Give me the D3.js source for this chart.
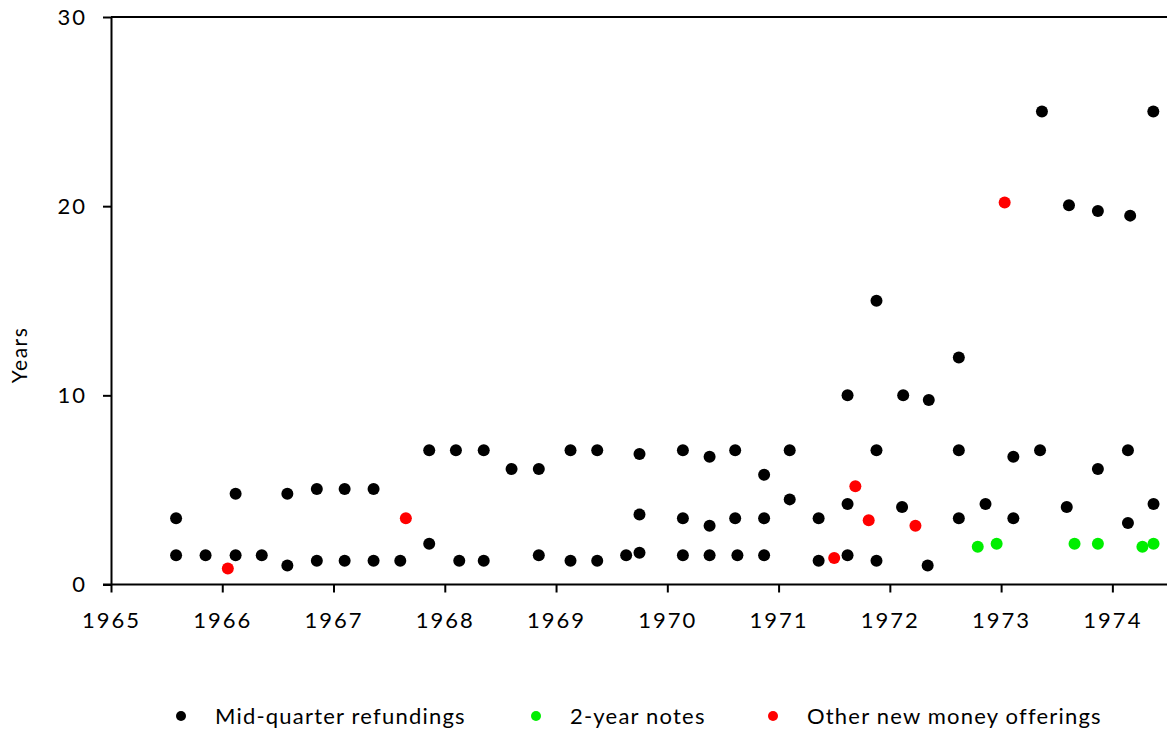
<!DOCTYPE html>
<html>
<head>
<meta charset="utf-8">
<script src="https://cdn.jsdelivr.net/npm/d3@7"></script>
<style>
  body { margin: 0; background: #fff; }
  text { font-family: Lato, "Open Sans", sans-serif; fill: #000; }
</style>
</head>
<body>
<div id="chart"></div>
<script>
var w = 1167;
var h = 734;

// mid-quarter refundings: issue date (decimal year) and maturity (years)
var refundDates = [1965.585, 1965.585, 1965.85, 1966.12, 1966.12, 1966.355, 1966.585, 1966.585,
  1966.85, 1966.85, 1967.1, 1967.1, 1967.36, 1967.36, 1967.6, 1967.86, 1967.86, 1968.1, 1968.13,
  1968.35, 1968.35, 1968.6, 1968.845, 1968.845, 1969.13, 1969.13, 1969.37, 1969.37, 1969.63,
  1969.75, 1969.75, 1969.75, 1970.14, 1970.14, 1970.14, 1970.38, 1970.38, 1970.38, 1970.61,
  1970.61, 1970.63, 1970.87, 1970.87, 1970.87, 1971.1, 1971.1, 1971.36, 1971.36, 1971.62,
  1971.62, 1971.62, 1971.88, 1971.88, 1971.88, 1972.11, 1972.12, 1972.34, 1972.35, 1972.62,
  1972.62, 1972.62, 1972.86, 1973.11, 1973.11, 1973.35, 1973.367, 1973.59, 1973.61, 1973.87,
  1973.87, 1974.14, 1974.14, 1974.16, 1974.37, 1974.368];
var refundYears = [3.5, 1.55, 1.55, 4.8, 1.55, 1.55, 4.8, 1.0,
  5.05, 1.25, 5.05, 1.25, 5.05, 1.25, 1.25, 7.1, 2.15, 7.1, 1.25,
  7.1, 1.25, 6.1, 6.1, 1.55, 7.1, 1.25, 7.1, 1.25, 1.55,
  6.9, 3.7, 1.68, 7.1, 3.5, 1.55, 6.75, 3.1, 1.55, 7.1,
  3.5, 1.55, 5.8, 3.5, 1.55, 7.1, 4.5, 3.5, 1.25, 10,
  4.25, 1.55, 15, 7.1, 1.25, 4.1, 10, 1.0, 9.75, 12,
  7.1, 3.5, 4.25, 6.75, 3.5, 7.1, 25, 4.1, 20.05, 19.75,
  6.1, 7.1, 3.25, 19.5, 4.25, 25];

// 2-year notes
var notesDates = [1972.79, 1972.96, 1973.66, 1973.87, 1974.27, 1974.37];
var notesYears = [2.0, 2.15, 2.15, 2.15, 2.0, 2.15];

// other new money offerings
var otherDates = [1966.05, 1967.65, 1971.5, 1971.69, 1971.81, 1972.23, 1973.032];
var otherYears = [0.85, 3.5, 1.4, 5.2, 3.4, 3.1, 20.2];

var xTicks = [1965, 1966, 1967, 1968, 1969, 1970, 1971, 1972, 1973, 1974];
var yTicks = [0, 10, 20, 30];

var seriesNames = ["Mid-quarter refundings", "2-year notes", "Other new money offerings"];
var seriesColors = ["#000000", "#00ee00", "#ff0000"];

var plotLeft = 111, plotRight = 1168, plotTop = 17, plotBottom = 584.5;

var x = d3.scaleLinear().domain([1965, 1974.5]).range([plotLeft, plotRight]);
var y = d3.scaleLinear().domain([0, 30]).range([plotBottom, plotTop]);

var svg = d3.select("#chart").append("svg")
            .attr("width", w)
            .attr("height", h);

// top frame line
svg.append("line")
   .attr("x1", plotLeft).attr("x2", w)
   .attr("y1", plotTop).attr("y2", plotTop)
   .attr("stroke", "#000")
   .attr("stroke-width", 2);

var xAxis = svg.append("g")
               .attr("transform", "translate(0," + plotBottom + ")")
               .call(d3.axisBottom(x).tickValues(xTicks).tickFormat(d3.format("d"))
                       .tickSize(8).tickSizeOuter(0).tickPadding(20));

var yAxis = svg.append("g")
               .attr("transform", "translate(" + plotLeft + ",0)")
               .call(d3.axisLeft(y).tickValues(yTicks).tickSize(8).tickSizeOuter(0).tickPadding(16));

[xAxis, yAxis].forEach(function(g) {
  g.select(".domain").attr("stroke", "#000").attr("stroke-width", 2);
  g.selectAll(".tick line").attr("stroke", "#000").attr("stroke-width", 2);
  g.selectAll(".tick text")
   .style("font-size", "22px")
   .style("letter-spacing", "2px")
   .style("font-family", "Lato, sans-serif");
});

// extend bottom axis line left to meet the 0 tick
xAxis.select(".domain").attr("d", "M" + (plotLeft - 8) + ",0H" + plotRight);

svg.append("text")
   .attr("transform", "translate(20,355) rotate(-90)")
   .attr("text-anchor", "middle")
   .attr("dy", "0.35em")
   .style("font-size", "21px")
   .style("letter-spacing", "1.5px")
   .text("Years");

function drawSeries(dates, values, color, cls) {
  svg.selectAll("circle." + cls)
     .data(dates)
     .enter()
     .append("circle")
     .attr("class", cls)
     .attr("cx", function(d) { return x(d); })
     .attr("cy", function(d, i) { return y(values[i]); })
     .attr("r", 6)
     .attr("fill", color);
}

drawSeries(refundDates, refundYears, seriesColors[0], "refund");
drawSeries(notesDates, notesYears, seriesColors[1], "notes");
drawSeries(otherDates, otherYears, seriesColors[2], "other");

// legend
var legendX = [181, 536, 773];
var legend = svg.selectAll("g.legend")
                .data(seriesNames)
                .enter()
                .append("g")
                .attr("class", "legend")
                .attr("transform", function(d, i) { return "translate(" + legendX[i] + ",716)"; });

legend.append("circle")
      .attr("r", 5)
      .attr("fill", function(d, i) { return seriesColors[i]; });

legend.append("text")
      .attr("x", 34)
      .attr("dy", "0.35em")
      .style("font-size", "22px")
      .style("letter-spacing", "1.2px")
      .text(function(d) { return d; });
</script>
</body>
</html>
